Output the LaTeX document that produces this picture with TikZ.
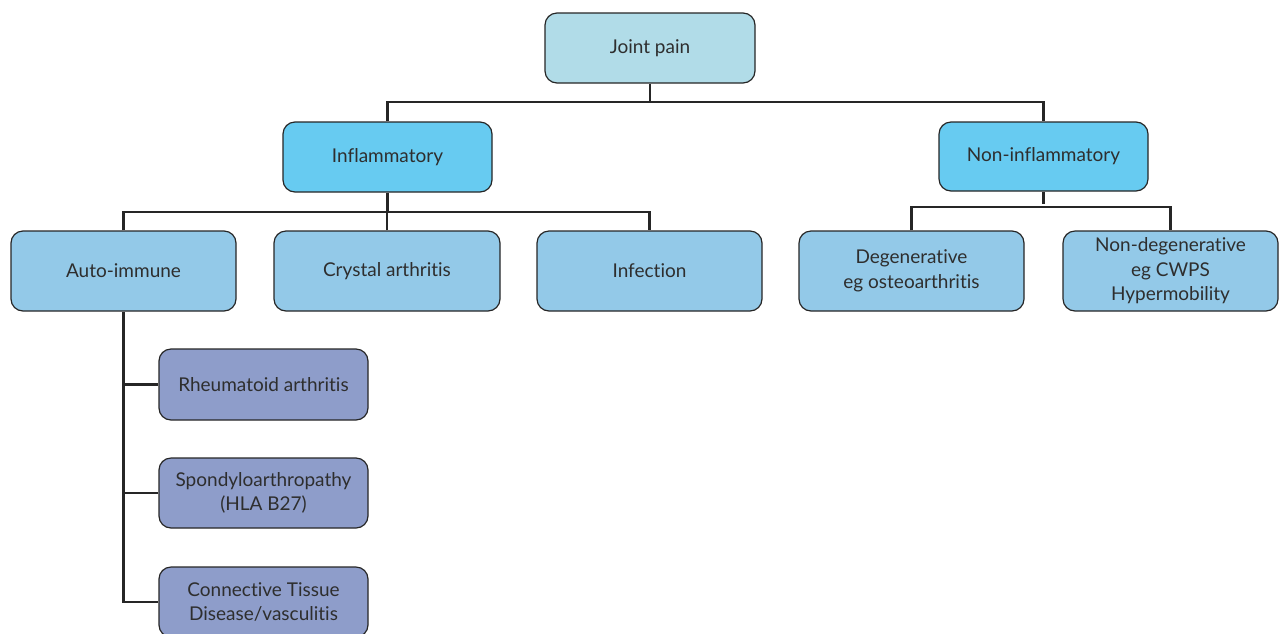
\documentclass[tikz,border=0pt]{standalone}
\usepackage{fontspec}
\setmainfont{Lato}[Ligatures=NoCommon]
\begin{document}
\begin{tikzpicture}[x=1pt,y=-1pt,
  box/.style={draw=black!85,line width=1.2pt,rounded corners=12pt,align=center,
    text=black!82,font=\fontsize{19}{24.5}\selectfont,inner sep=0pt},
  lvA/.style={box,fill=topc},
  lvB/.style={box,fill=secc},
  lvC/.style={box,fill=thirdc},
  lvD/.style={box,fill=fourthc},
  conn/.style={draw=black!85,line width=2.4pt}]
\definecolor{topc}{HTML}{B1DCE8}
\definecolor{secc}{HTML}{67CBF1}
\definecolor{thirdc}{HTML}{93C9E8}
\definecolor{fourthc}{HTML}{8E9DCA}
\useasboundingbox (0,0) rectangle (1279,633);
% nodes
\node[lvA,minimum width=210pt,minimum height=70pt] (jp) at (650,48) {Joint pain};
\node[lvB,minimum width=209pt,minimum height=70pt] (inf) at (387.5,157) {Inflammatory};
\node[lvB,minimum width=209pt,minimum height=69pt] (non) at (1043.5,156.5) {Non-inflammatory};
\node[lvC,minimum width=225pt,minimum height=80pt] (auto) at (123.5,271) {Auto-immune};
\node[lvC,minimum width=226pt,minimum height=80pt] (cry) at (387,271) {Crystal arthritis};
\node[lvC,minimum width=225pt,minimum height=80pt] (infe) at (649.5,271) {Infection};
\node[lvC,minimum width=225pt,minimum height=80pt] (deg) at (911.5,271) {Degenerative\\eg osteoarthritis};
\node[lvC,minimum width=215pt,minimum height=80pt] (ndeg) at (1170.5,271) {Non-degenerative\\eg CWPS\\Hypermobility};
\node[lvD,minimum width=209pt,minimum height=71pt] (ra) at (263.5,384.5) {Rheumatoid arthritis};
\node[lvD,minimum width=209pt,minimum height=70pt] (sp) at (263.5,493) {Spondyloarthropathy\\(HLA B27)};
\node[lvD,minimum width=209pt,minimum height=70pt] (ct) at (263.5,602) {Connective Tissue\\Disease/vasculitis};
% connectors
\coordinate (j1) at (650,102);
\coordinate (i1) at (387.5,212);
\coordinate (n1) at (1043.5,207);
\draw[conn] (jp.south) -- (j1);
\draw[conn] (inf.north) |- (non.north |- j1) -- (non.north);
\draw[conn] (inf.south) -- (i1);
\draw[conn] (auto.north) |- (infe.north |- i1) -- (infe.north);
\draw[conn] (cry.north) -- (cry.north |- i1);
\draw[conn] (non.south) -- ([yshift=3pt]n1);
\draw[conn] (deg.north) |- (ndeg.north |- n1) -- (ndeg.north);
\draw[conn] (auto.south) |- (ct.west);
\draw[conn] (auto.south |- ra.west) -- (ra.west);
\draw[conn] (auto.south |- sp.west) -- (sp.west);
\end{tikzpicture}
\end{document}
